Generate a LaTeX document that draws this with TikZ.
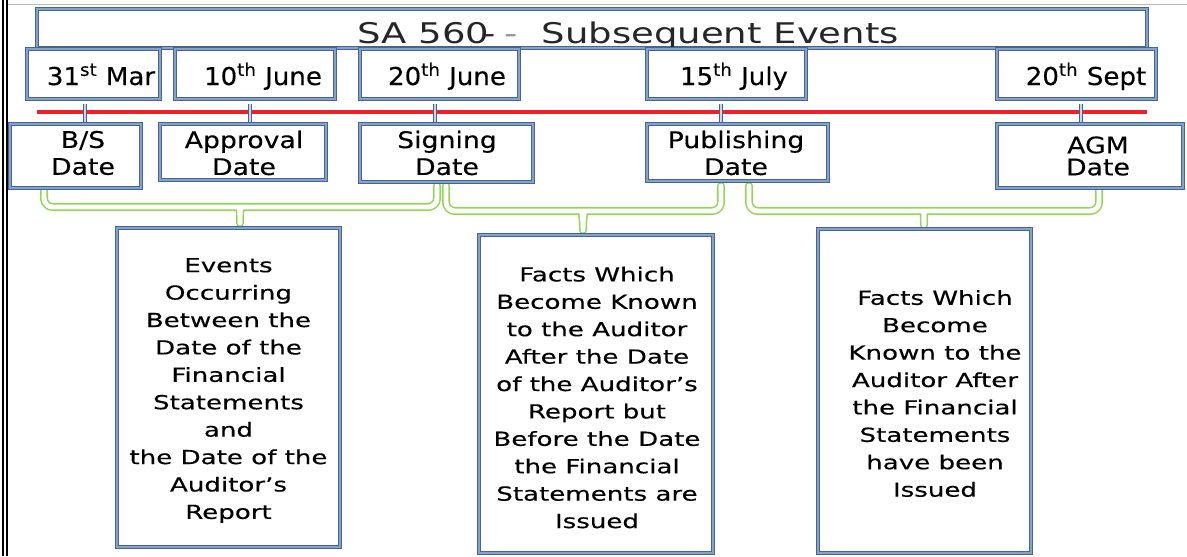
\documentclass[tikz,border=0pt]{standalone}
\usepackage{fontspec}
\setmainfont{DejaVu Sans}
\newfontfamily\titlefont[FakeStretch=1.3]{DejaVu Sans}
\newfontfamily\datefont[FakeStretch=1.06,FakeBold=0.2]{DejaVu Sans}
\newfontfamily\labelfont[FakeStretch=1.17,FakeBold=0.2]{DejaVu Sans}
\newfontfamily\bodyfont[FakeStretch=1.35,FakeBold=0.3]{DejaVu Sans}
\usetikzlibrary{fit,calc}
\pgfdeclarelayer{bg}
\pgfsetlayers{bg,main}

\definecolor{boxblue}{RGB}{68,100,148}
\definecolor{boxlight}{RGB}{135,162,202}
\definecolor{tickpale}{RGB}{200,214,234}
\definecolor{braceGreen}{RGB}{150,212,88}
\definecolor{lineRed}{RGB}{240,32,40}
\definecolor{titlegray}{RGB}{38,38,38}
\definecolor{dashgray}{RGB}{150,150,150}
\definecolor{edgegray}{RGB}{185,185,185}

\begin{document}
\begin{tikzpicture}[x=0.02cm,y=-0.02cm,
  frame/.style={draw=boxblue, line width=0.8pt, double=boxlight,
    double distance=0.6pt, fill=white, inner sep=0pt},
  titletxt/.style={font=\titlefont\fontsize{16.2}{20}\selectfont,
    text=titlegray, inner sep=0pt},
  datetxt/.style={font=\datefont\fontsize{14}{16}\selectfont,
    text=black, inner sep=0pt},
  labeltxt/.style={font=\labelfont\fontsize{13}{15.3}\selectfont,
    align=center, text=black, inner sep=0pt},
  bodytxt/.style={font=\bodyfont\fontsize{11}{15.6}\selectfont,
    align=center, text=black, inner sep=0pt},
  redline/.style={draw=lineRed, line width=1.8pt},
  tickline/.style={draw=boxblue, line width=0.55pt, double=tickpale,
    double distance=1.6pt},
  bracket/.style={draw=braceGreen, line width=0.9pt, double=white,
    double distance=2.8pt, line cap=round, line join=round}]

\useasboundingbox (0,0) rectangle (1187,556);

% page edges
\draw[black, line width=1.5pt] (3,0) -- (3,556);
\draw[black, line width=1.5pt] (7,0) -- (7,556);
\draw[edgegray, line width=0.8pt] (8,4.5) -- (1187,4.5);

% heading
\node[frame, fit={(37,9) (1147,48)}] (titlebox) {};
\node[titletxt, anchor=base west] (title) at (357,43)
  {SA 560\kern-0.22em-\kern0.3em{\color{dashgray}-}\ \ Subsequent Events};

% date boxes
\node[frame, fit={(27,49) (160,99)}] (d1) {};
\node[frame, fit={(175,49) (335,99)}] (d2) {};
\node[frame, fit={(360,49) (519,99)}] (d3) {};
\node[frame, fit={(647,49) (806,99)}] (d4) {};
\node[frame, fit={(997,49) (1156,99)}] (d5) {};
\node[datetxt, anchor=base] (t1) at (101,85) {31\textsuperscript{st} Mar};
\node[datetxt, anchor=base] (t2) at (263,85) {10\textsuperscript{th} June};
\node[datetxt, anchor=base] (t3) at (447,85) {20\textsuperscript{th} June};
\node[datetxt, anchor=base] (t4) at (734,85) {15\textsuperscript{th} July};
\node[datetxt, anchor=base] (t5) at (1086,85) {20\textsuperscript{th} Sept};

% event boxes
\node[frame, fit={(10,124) (141,188)}] (e1) {};
\node[frame, fit={(160,124) (326,180)}] (e2) {};
\node[frame, fit={(360,124) (533,182)}] (e3) {};
\node[frame, fit={(647,124) (828,181)}] (e4) {};
\node[frame, fit={(997,124) (1183,188)}] (e5) {};
\node[labeltxt] (l1) at (83,153) {B/S\\Date};
\node[labeltxt] (l2) at (244,153) {Approval\\Date};
\node[labeltxt] (l3) at (447,153) {Signing\\Date};
\node[labeltxt] (l4) at (736,153) {Publishing\\Date};
\node[labeltxt, font=\labelfont\fontsize{13}{12.5}\selectfont] (l5) at (1098,156) {AGM\\Date};

% period boxes
\node[frame, fit={(117,228) (340,547)}] (p1) {};
\node[frame, fit={(479,235) (713,553)}] (p2) {};
\node[frame, fit={(818,229) (1031,553)}] (p3) {};
\node[bodytxt] (b1) at (228.5,390.5) {Events\\Occurring\\Between the\\Date of the\\Financial\\Statements\\and\\the Date of the\\Auditor’s\\Report};
\node[bodytxt] (b2) at (597,397.5) {Facts Which\\Become Known\\to the Auditor\\After the Date\\of the Auditor’s\\Report but\\Before the Date\\the Financial\\Statements are\\Issued};
\node[bodytxt] (b3) at (935,393.5) {Facts Which\\Become\\Known to the\\Auditor After\\the Financial\\Statements\\have been\\Issued};

% anchor points of the time line, its ticks and the brackets
\coordinate (rl) at (37,112);
\coordinate (rr) at (1147,112);
\coordinate (k1) at (85,104);
\coordinate (k2) at (250,104);
\coordinate (k3) at (435,104);
\coordinate (k4) at (721,104);
\coordinate (k5) at (1081,104);
\coordinate (g1) at (240,223);
\coordinate (g2) at (583,230);
\coordinate (g3) at (924,225);

\begin{pgfonlayer}{bg}
  % time line
  \draw[redline] (rl) -- (rr);
  % ticks joining each date to its event
  \draw[tickline] (k1) -- (k1 |- e1.north);
  \draw[tickline] (k2) -- (k2 |- e2.north);
  \draw[tickline] (k3) -- (k3 |- e3.north);
  \draw[tickline] (k4) -- (k4 |- e4.north);
  \draw[tickline] (k5) -- (k5 |- e5.north);
  % brackets grouping the periods
  \draw[bracket, rounded corners=5pt]
    (44,186) -- (44,207) -- (233,207) to[out=0,in=90] (g1)
    (437,186) -- (437,207) -- (247,207) to[out=180,in=90] (g1);
  \draw[bracket, rounded corners=5pt]
    (446,186) -- (446,211) -- (576,211) to[out=0,in=90] (g2)
    (721,186) -- (721,211) -- (590,211) to[out=180,in=90] (g2);
  \draw[bracket, rounded corners=5pt]
    (749,186) -- (749,211) -- (917,211) to[out=0,in=90] (g3)
    (1099,186) -- (1099,211) -- (931,211) to[out=180,in=90] (g3);
\end{pgfonlayer}
\end{tikzpicture}
\end{document}
